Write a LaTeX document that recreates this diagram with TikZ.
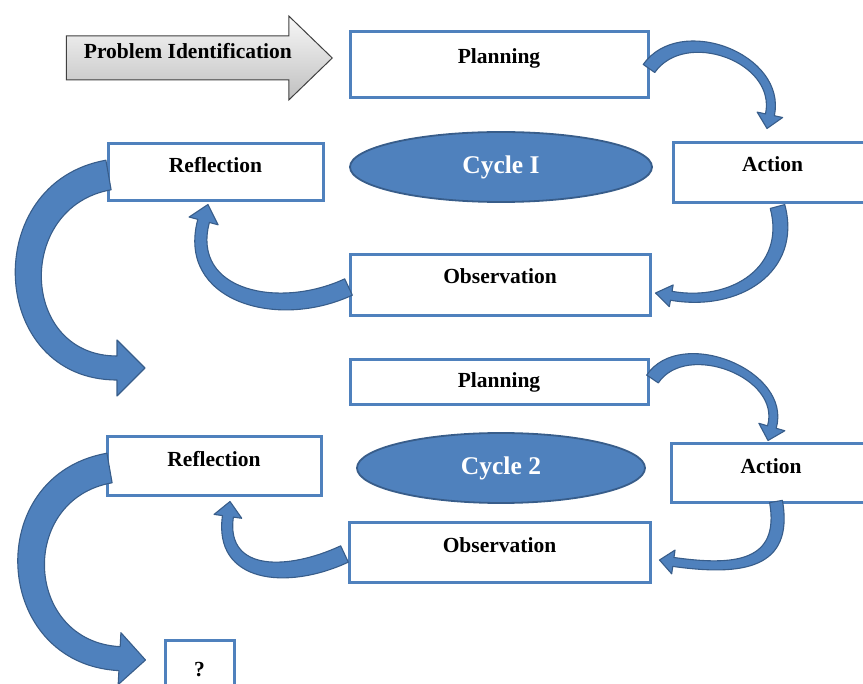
\documentclass[tikz,border=0pt]{standalone}
\usepackage{fontspec}
\setmainfont{Liberation Serif}
\usetikzlibrary{calc,shapes.geometric,shapes.arrows}
\definecolor{boxblue}{RGB}{79,129,189}
\definecolor{darkblue}{RGB}{56,93,138}
\tikzset{
  stage/.style={
    draw=boxblue,
    line width=3pt,
    fill=white,
    inner xsep=0pt,
    inner ysep=0pt,
    font=\fontsize{21.5}{24}\selectfont\bfseries
  },
  hub/.style={
    ellipse,
    draw=darkblue,
    line width=1.8pt,
    fill=boxblue,
    inner sep=0pt,
    text=white,
    font=\fontsize{25.5}{28}\selectfont\bfseries
  },
  flow/.style={fill=boxblue, draw=darkblue, line width=1.1pt, line join=round},
  startarrow/.style={
    single arrow,
    draw=black!75,
    line width=1pt,
    top color=gray!6,
    bottom color=gray!50,
    single arrow head extend=20pt,
    single arrow tip angle=88,
    minimum height=266pt,
    inner xsep=4pt,
    inner ysep=5pt,
    text height=17pt,
    text depth=16pt,
    font=\fontsize{21.5}{24}\selectfont\bfseries
  }
}
% ribbon arrow: [looseness]{tail}{tail dir}{tail half width}{tip}{head dir}{shaft half width}{wing half width}{head length}
\newcommand{\bentarrow}[9][1]{%
  \pgfmathsetmacro{\hback}{#6+180}
  \pgfmathsetmacro{\hleft}{#6+90}
  \pgfmathsetmacro{\hright}{#6-90}
  \pgfmathsetmacro{\tleft}{#3+90}
  \pgfmathsetmacro{\tright}{#3-90}
  \coordinate (hb) at ($(#5)+(\hback:#9)$);
  \draw[flow] ($(#2)+(\tleft:#4)$) to[out=#3, in=\hback, looseness=#1] ($(hb)+(\hleft:#7)$)
    -- ($(hb)+(\hleft:#8)$) -- (#5) -- ($(hb)+(\hright:#8)$) -- ($(hb)+(\hright:#7)$)
    to[out=\hback, in=#3, looseness=#1] ($(#2)+(\tright:#4)$) -- cycle;
}

\begin{document}
\begin{tikzpicture}[x=1pt, y=1pt]
  \useasboundingbox (0,0) rectangle (863,-684);

  % cycle 1
  \node[startarrow, anchor=tip] (prob) at (333,-58) {Problem Identification};
  \node[stage, minimum width=298pt, text height=32pt, text depth=34pt] (plan1) at (499,-65) {Planning};
  \node[stage, minimum width=215pt, text height=28.5pt, text depth=28.5pt] (ref1) at (215.5,-172.5) {Reflection};
  \node[hub, minimum width=302pt, minimum height=70pt] (cyc1) at (501,-167) {Cycle I};
  \node[stage, minimum width=199pt, text height=29pt, text depth=31pt] (act1) at (772.5,-173) {Action};
  \node[stage, minimum width=300pt, text height=29pt, text depth=32pt] (obs1) at (500,-285.5) {Observation};

  % cycle 2
  \node[stage, minimum width=298pt, text height=28pt, text depth=17pt] (plan2) at (499,-382.5) {Planning};
  \node[stage, minimum width=214pt, text height=29.5pt, text depth=29.5pt] (ref2) at (214,-466.5) {Reflection};
  \node[hub, minimum width=288pt, minimum height=70pt] (cyc2) at (501,-468) {Cycle 2};
  \node[stage, minimum width=200pt, text height=29.5pt, text depth=29.5pt] (act2) at (771,-473.5) {Action};
  \node[stage, minimum width=301pt, text height=30pt, text depth=30pt] (obs2) at (499.5,-553) {Observation};
  \node[stage, minimum width=69pt, text height=36pt, text depth=36pt] (q) at (199.5,-676) {?};

  % arrows of cycle 1
  \coordinate (a1s) at ($(plan1.east)+(-0.5,-3.5)$);
  \coordinate (a1e) at ($(act1.north)+(-5.5,13)$);
  \bentarrow[1.15]{a1s}{55}{7}{a1e}{-102}{4.5}{13}{14}
  \coordinate (a2s) at ($(act1.south)+(5,-2)$);
  \coordinate (a2e) at ($(obs1.east)+(4,-7.5)$);
  \bentarrow[1.2]{a2s}{-75}{7.5}{a2e}{170}{4.5}{11}{16}
  \coordinate (a3s) at ($(obs1.west)+(0,-1.5)$);
  \coordinate (a3e) at ($(ref1.south)+(-7.5,-2)$);
  \bentarrow[1.25]{a3s}{205}{9}{a3e}{75}{6}{15}{17}
  \coordinate (a4s) at ($(ref1.west)+(2,-2.5)$);
  \coordinate (gap1) at (145,-368);
  \bentarrow[1.5]{a4s}{190}{15}{gap1}{0}{12}{28}{28}

  % arrows of cycle 2
  \coordinate (b1s) at ($(plan2.east)+(3,3.5)$);
  \coordinate (b1e) at ($(act2.north)+(-3,2)$);
  \bentarrow[1.1]{b1s}{56}{7}{b1e}{-106}{4.5}{13.5}{14}
  \coordinate (b2s) at ($(act2.south)+(5,3)$);
  \coordinate (b2e) at ($(obs2.east)+(8,-7)$);
  \bentarrow[1.4]{b2s}{-80}{6.5}{b2e}{172}{4.5}{12}{14}
  \coordinate (b3s) at ($(obs2.west)+(-3,-1)$);
  \coordinate (b3e) at ($(ref2.south)+(16,-4)$);
  \bentarrow[1.3]{b3s}{205}{9}{b3e}{82}{5.5}{14}{15}
  \coordinate (b4s) at ($(ref2.west)+(4,-1.5)$);
  \coordinate (b4e) at ($(q.west)+(-18,16)$);
  \bentarrow[1.5]{b4s}{190}{15}{b4e}{-3}{12}{26}{26}
\end{tikzpicture}
\end{document}
